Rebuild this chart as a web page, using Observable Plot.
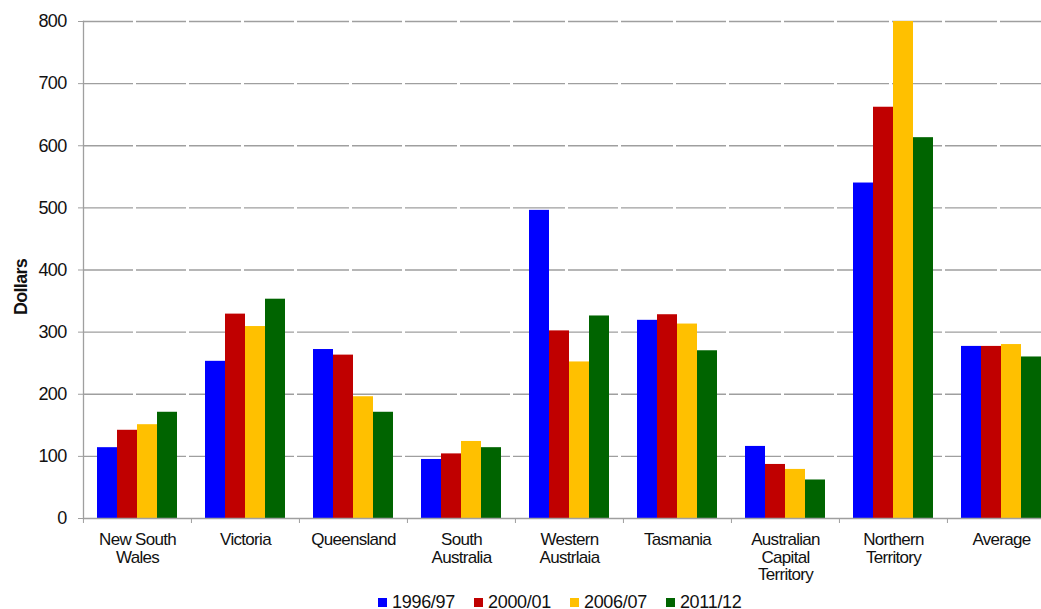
<!DOCTYPE html>
<html>
<head>
<meta charset="utf-8">
<script src="https://cdn.jsdelivr.net/npm/d3@7"></script>
<script src="https://cdn.jsdelivr.net/npm/@observablehq/plot@0.6"></script>
<style>
  html, body { margin: 0; padding: 0; overflow: hidden; background: #fff; }
  #wrap { position: relative; width: 1041px; height: 609px; overflow: hidden; }
  #chart svg { max-width: none !important; }
  #chart svg text { letter-spacing: -0.7px; }
  #legend {
    position: absolute; left: 378px; top: 592px;
    display: flex; align-items: center;
    font-family: "Liberation Sans", Arial, sans-serif; font-size: 18px; color: #111;
    letter-spacing: -0.3px; white-space: nowrap;
  }
  #legend .item { display: flex; align-items: center; margin-right: 19px; }
  #legend .sw { width: 9px; height: 9px; margin-right: 5px; }
</style>
</head>
<body>
<div id="wrap">
  <div id="chart"></div>
  <div id="legend"></div>
</div>
<script>
// Regions (line breaks as set in the axis labels)
const regions = [
  "New South\nWales", "Victoria", "Queensland", "South\nAustralia",
  "Western\nAustrlaia", "Tasmania", "Australian\nCapital\nTerritory",
  "Northern\nTerritory", "Average"
];
const years = ["1996/97", "2000/01", "2006/07", "2011/12"];

// Dollars per region, one array per year
const v1996 = [114, 253, 272, 95, 496, 319, 116, 540, 277];
const v2000 = [142, 329, 263, 104, 302, 328, 87, 662, 277];
const v2006 = [151, 309, 196, 124, 252, 313, 79, 800, 280];
const v2011 = [171, 353, 171, 114, 326, 270, 62, 613, 260];

const yearColors = ["#0000ff", "#c00000", "#ffc000", "#006400"];
const yTicks = [0, 100, 200, 300, 400, 500, 600, 700, 800];

const series = [v1996, v2000, v2006, v2011];
const rows = regions.flatMap((region, i) =>
  years.map((year, j) => ({region, year, value: series[j][i]}))
);

const width = 1062, marginLeft = 82, marginRight = 7;
const fxStep = (width - marginLeft - marginRight) / regions.length;
const gridColor = "#9f9f9f";

const chart = Plot.plot({
  width,
  height: 590,
  marginLeft,
  marginRight,
  marginTop: 21,
  marginBottom: 72,
  style: {fontFamily: "'Liberation Sans', Arial, sans-serif", background: "#fff", color: "#111"},
  fx: {domain: regions, paddingInner: 0, paddingOuter: 0, axis: null},
  x: {domain: years, paddingInner: 0, paddingOuter: 0.7, axis: null},
  y: {domain: [0, 800], axis: null},
  color: {domain: years, range: yearColors},
  marks: [
    // dashed horizontal gridlines
    Plot.ruleY(yTicks.filter(t => t > 0), {stroke: gridColor, strokeWidth: 1.3, strokeDasharray: "50,3"}),
    Plot.barY(rows, {fx: "region", x: "year", y: "value", fill: "year"}),
    // baseline and vertical axis line
    Plot.ruleY([0], {stroke: gridColor, strokeWidth: 1.3}),
    Plot.frame({anchor: "left", stroke: gridColor, strokeWidth: 1.3, facet: "super"}),
    Plot.axisY({ticks: yTicks, tickSize: 5, tickPadding: 12, fontSize: 18, stroke: gridColor, label: null}),
    // category labels under each group
    Plot.axisFx({anchor: "bottom", tickSize: 0, tickPadding: 14, fontSize: 17, lineHeight: 1.04, label: null}),
    // tick marks at the boundaries between groups
    Plot.axisFx({anchor: "bottom", tickSize: 5, tickPadding: 0, tickFormat: () => "", dx: -fxStep / 2, stroke: gridColor, label: null}),
    Plot.text(["Dollars"], {
      frameAnchor: "left", textAnchor: "middle", rotate: -90, dx: -62, dy: 17,
      fontSize: 18, fontWeight: "bold", fill: "#111", facetAnchor: "left"
    })
  ]
});
document.getElementById("chart").appendChild(chart);

// legend below the chart
const legend = d3.select("#legend");
years.forEach((y, i) => {
  const item = legend.append("div").attr("class", "item");
  item.append("div").attr("class", "sw").style("background", yearColors[i]);
  item.append("span").text(y);
});
</script>
</body>
</html>
